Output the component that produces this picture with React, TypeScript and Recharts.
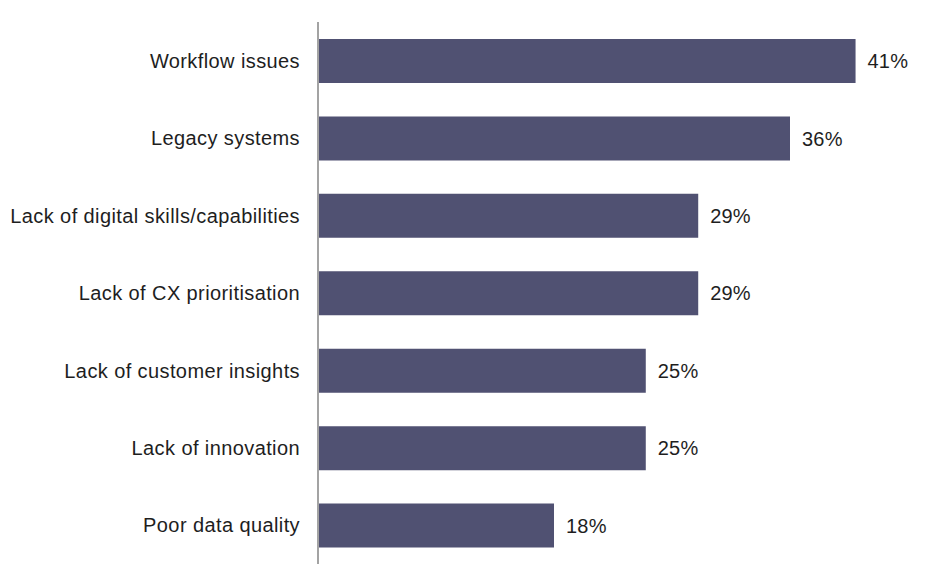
import { BarChart, Bar, XAxis, YAxis, LabelList } from 'recharts';

const categories = [
  'Workflow issues',
  'Legacy systems',
  'Lack of digital skills/capabilities',
  'Lack of CX prioritisation',
  'Lack of customer insights',
  'Lack of innovation',
  'Poor data quality',
];
const shares = [41, 36, 29, 29, 25, 25, 18];

const data = categories.map((name, i) => ({ name, value: shares[i] }));

export default function App() {
  return (
    <div style={{ position: 'absolute', left: 0, top: 0, background: '#fff' }}>
      <BarChart
        width={933}
        height={586}
        data={data}
        layout="vertical"
        margin={{ top: 22, right: 25, bottom: 22, left: 0 }}
      >
        <XAxis type="number" domain={[0, 45]} hide />
        <YAxis
          type="category"
          dataKey="name"
          width={318}
          tickLine={false}
          tickMargin={12}
          axisLine={{ stroke: '#a3a3a3', strokeWidth: 2 }}
          tick={{ fill: '#1e1e1e', fontSize: 20, letterSpacing: 0.4, fontFamily: 'Liberation Sans, Arial, sans-serif' }}
          interval={0}
        />
        <Bar dataKey="value" fill="#505172" barSize={44} isAnimationActive={false}>
          <LabelList
            dataKey="value"
            position="right"
            offset={12}
            formatter={(v: number) => `${v}%`}
            style={{ fill: '#1e1e1e', fontSize: 20, letterSpacing: 0.2, fontFamily: 'Liberation Sans, Arial, sans-serif' }}
          />
        </Bar>
      </BarChart>
    </div>
  );
}
